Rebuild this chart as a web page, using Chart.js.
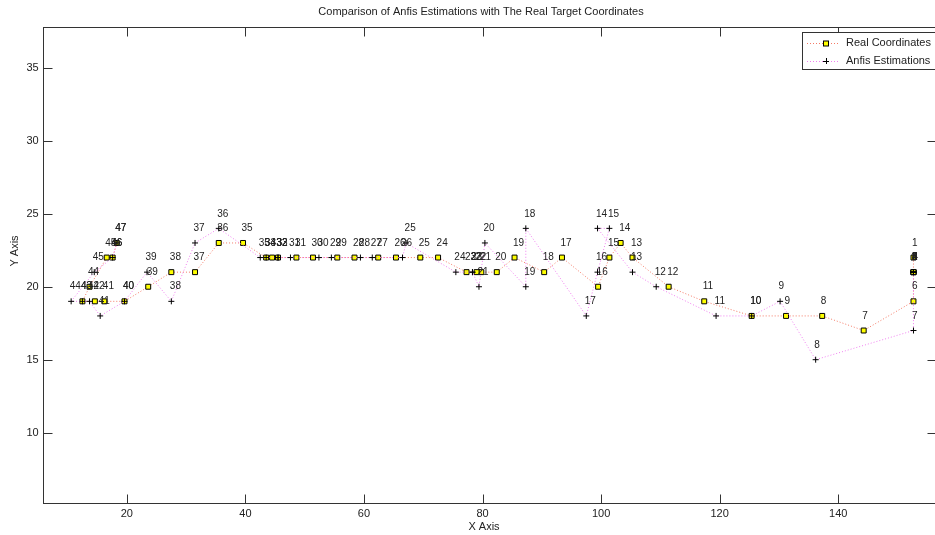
<!DOCTYPE html>
<html>
<head>
<meta charset="utf-8">
<script src="https://cdn.jsdelivr.net/npm/chart.js@4.4.0/dist/chart.umd.min.js"></script>
<style>
  html, body { margin: 0; padding: 0; background: #fff; overflow: hidden; }
  #plot { display: block; }
</style>
</head>
<body>
<canvas id="plot" width="945" height="535"></canvas>
<script>
// Real target coordinates (point 1 .. 47)
const realX = [152.7, 152.7, 152.7, 152.7, 152.7, 152.7, 144.3, 137.3, 131.2, 125.4,
               117.4, 111.4, 105.3, 103.3, 101.4, 99.5, 93.4, 90.4, 85.4, 82.4,
               79.8, 79.0, 77.3, 72.5, 69.5, 65.4, 62.4, 58.4, 55.5, 51.4,
               48.6, 45.5, 44.5, 43.5, 39.6, 35.5, 31.5, 27.5, 23.6, 19.6,
               16.2, 14.6, 12.5, 13.7, 16.6, 17.6, 18.3];
const realY = [22, 21, 21, 21, 21, 19, 17, 18, 18, 18,
               19, 20, 22, 23, 22, 20, 22, 21, 22, 21,
               21, 21, 21, 22, 22, 22, 22, 22, 22, 22,
               22, 22, 22, 22, 23, 23, 21, 21, 20, 19,
               19, 19, 19, 20, 22, 22, 23];

// Anfis estimations (point 1 .. 47)
const anfisX = [152.7, 152.7, 152.7, 152.7, 152.7, 152.7, 152.7, 136.2, 130.2, 125.4,
                119.4, 109.3, 105.3, 99.4, 101.4, 99.4, 97.5, 87.3, 87.3, 80.4,
                79.4, 78.3, 78.3, 75.5, 67.1, 66.5, 61.4, 59.4, 54.5, 52.4,
                47.6, 45.5, 45.5, 43.5, 42.5, 35.5, 31.5, 27.5, 23.4, 19.6,
                15.5, 13.7, 12.5, 10.6, 14.5, 17.6, 18.3];
const anfisY = [21, 21, 21, 21, 21, 21, 17, 15, 19, 18,
                18, 20, 21, 24, 24, 21, 18, 24, 20, 23,
                20, 21, 21, 21, 23, 22, 22, 22, 22, 22,
                22, 22, 22, 22, 22, 24, 23, 19, 21, 19,
                18, 19, 19, 19, 21, 22, 23];

const xTickValues = [20, 40, 60, 80, 100, 120, 140];
const yTickValues = [10, 15, 20, 25, 30, 35];

const titleText = 'Comparison of Anfis Estimations with The Real Target Coordinates';
const seriesNames = ['Real Coordinates', 'Anfis Estimations'];

const FONT = '"Liberation Sans", Arial, sans-serif';
const INK = '#222';
const REAL_LINE = '#f47a66';
const ANFIS_LINE = '#f07ff0';

const toPoints = (xs, ys) => xs.map((x, i) => ({ x: x, y: ys[i] }));

// frame, inward ticks, point numbers, titles and legend
const matlabAxes = {
  id: 'matlabAxes',
  beforeDatasetsDraw(chart) {
    const ctx = chart.ctx;
    const a = chart.chartArea;
    const xs = chart.scales.x, ys = chart.scales.y;
    const L = Math.round(a.left) + 0.5, R = Math.round(a.right) + 0.5;
    const T = Math.round(a.top) + 0.5, B = Math.round(a.bottom) + 0.5;
    ctx.save();
    ctx.strokeStyle = '#333';
    ctx.lineWidth = 1;
    ctx.strokeRect(L, T, R - L, B - T);
    ctx.beginPath();
    xTickValues.forEach(v => {
      const px = Math.round(xs.getPixelForValue(v)) + 0.5;
      ctx.moveTo(px, B); ctx.lineTo(px, B - 9);
      ctx.moveTo(px, T); ctx.lineTo(px, T + 9);
    });
    yTickValues.forEach(v => {
      const py = Math.round(ys.getPixelForValue(v)) + 0.5;
      ctx.moveTo(L, py); ctx.lineTo(L + 9, py);
      ctx.moveTo(R, py); ctx.lineTo(R - 9, py);
    });
    ctx.stroke();
    ctx.restore();
  },
  afterDraw(chart) {
    const ctx = chart.ctx;
    const ys = chart.scales.y;
    ctx.save();

    // point numbers, one unit above each mark
    ctx.fillStyle = INK;
    ctx.font = '10px ' + FONT;
    ctx.textAlign = 'left';
    ctx.textBaseline = 'middle';
    [realY, anfisY].forEach((yVals, di) => {
      const meta = chart.getDatasetMeta(di);
      meta.data.forEach((pt, j) => {
        ctx.fillText(String(j + 1), pt.x - 1.5, ys.getPixelForValue(yVals[j] + 1));
      });
    });

    // title and axis labels
    ctx.font = '11px ' + FONT;
    ctx.textAlign = 'center';
    ctx.fillText(titleText, 481, 12);
    ctx.fillText('X Axis', 484, 527);
    ctx.save();
    ctx.translate(15, 251);
    ctx.rotate(-Math.PI / 2);
    ctx.fillText('Y Axis', 0, 0);
    ctx.restore();

    // legend box
    const bx = 802.5, by = 32.5, bw = 160, bh = 37;
    ctx.fillStyle = '#fff';
    ctx.fillRect(bx, by, bw, bh);
    ctx.strokeStyle = '#333';
    ctx.lineWidth = 1;
    ctx.strokeRect(bx, by, bw, bh);
    const rows = [43, 61];
    const lineColors = [REAL_LINE, ANFIS_LINE];
    rows.forEach((ry, k) => {
      ctx.save();
      ctx.strokeStyle = lineColors[k];
      ctx.setLineDash([1, 2]);
      ctx.beginPath();
      ctx.moveTo(807, ry + 0.5);
      ctx.lineTo(839, ry + 0.5);
      ctx.stroke();
      ctx.restore();
      if (k === 0) {
        ctx.fillStyle = '#ffff00';
        ctx.fillRect(823.5, ry - 2, 5, 5);
        ctx.strokeStyle = '#000';
        ctx.strokeRect(823.5, ry - 2, 5, 5);
      } else {
        ctx.strokeStyle = '#000';
        ctx.beginPath();
        ctx.moveTo(823, ry + 0.5); ctx.lineTo(829, ry + 0.5);
        ctx.moveTo(826.5, ry - 3); ctx.lineTo(826.5, ry + 3);
        ctx.stroke();
      }
      ctx.fillStyle = INK;
      ctx.font = '11px ' + FONT;
      ctx.textAlign = 'left';
      ctx.textBaseline = 'middle';
      ctx.fillText(seriesNames[k], 846, ry);
    });
    ctx.restore();
  }
};

new Chart(document.getElementById('plot'), {
  type: 'scatter',
  data: {
    datasets: [
      {
        label: seriesNames[0],
        data: toPoints(realX, realY),
        showLine: true,
        borderColor: REAL_LINE,
        borderWidth: 1,
        borderDash: [1, 2],
        pointStyle: 'rect',
        pointRadius: 3.5,
        pointBackgroundColor: '#ffff00',
        pointBorderColor: '#000',
        pointBorderWidth: 1,
        order: 2
      },
      {
        label: seriesNames[1],
        data: toPoints(anfisX, anfisY),
        showLine: true,
        borderColor: ANFIS_LINE,
        borderWidth: 1,
        borderDash: [1, 2],
        pointStyle: 'cross',
        pointRadius: 3,
        pointBorderColor: '#000',
        pointBorderWidth: 1,
        order: 1
      }
    ]
  },
  options: {
    responsive: false,
    animation: false,
    layout: { padding: { left: 0, top: 27, right: 9, bottom: 0 } },
    plugins: {
      legend: { display: false },
      title: { display: false },
      tooltip: { enabled: false }
    },
    scales: {
      x: {
        type: 'linear',
        min: 5.8,
        max: 156.5,
        grid: { display: false, drawTicks: false },
        border: { display: false },
        afterBuildTicks: s => { s.ticks = xTickValues.map(v => ({ value: v })); },
        afterFit: s => { s.height = 32.3; },
        ticks: { color: INK, font: { family: FONT, size: 11 }, padding: 5, maxRotation: 0 }
      },
      y: {
        type: 'linear',
        min: 5.2,
        max: 37.8,
        grid: { display: false, drawTicks: false },
        border: { display: false },
        afterBuildTicks: s => { s.ticks = yTickValues.map(v => ({ value: v })); },
        afterFit: s => { s.width = 42.7; },
        ticks: { color: INK, font: { family: FONT, size: 11 }, padding: 4 }
      }
    }
  },
  plugins: [matlabAxes]
});
</script>
</body>
</html>
